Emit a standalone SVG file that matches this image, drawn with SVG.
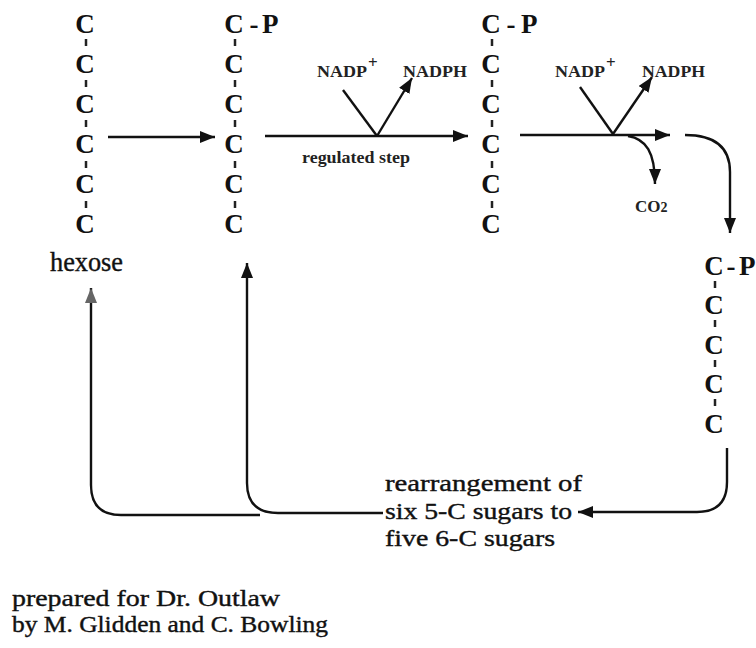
<svg xmlns="http://www.w3.org/2000/svg" width="756" height="648" viewBox="0 0 756 648">
<style>
.c{font-family:"Liberation Serif",serif;font-size:27px;font-weight:bold;fill:#111;text-anchor:middle}
.p{font-family:"Liberation Serif",serif;font-size:27px;font-weight:bold;fill:#111}
.t{font-family:"Liberation Serif",serif;font-size:27px;fill:#111;stroke:#111;stroke-width:0.4}
.m{font-size:24px}
.s{font-family:"Liberation Serif",serif;font-size:17px;font-weight:bold;fill:#222}
.tick{stroke:#222;stroke-width:2.5}
.ln{fill:none;stroke:#111;stroke-width:2.4}
</style>
<defs>
<marker id="ah" markerUnits="userSpaceOnUse" markerWidth="16" markerHeight="12" refX="15" refY="6" orient="auto"><path d="M0,0 L15,6 L0,12 z" fill="#111"/></marker>
<marker id="ahg" markerUnits="userSpaceOnUse" markerWidth="16" markerHeight="12" refX="15" refY="6" orient="auto"><path d="M0,0 L15,6 L0,12 z" fill="#666"/></marker>
</defs>
<rect width="756" height="648" fill="#fff"/>

<g id="hexose">
<text class="c" x="85" y="33">C</text><text class="c" x="85" y="73">C</text><text class="c" x="85" y="113">C</text><text class="c" x="85" y="153">C</text><text class="c" x="85" y="193">C</text><text class="c" x="85" y="233">C</text>
<line class="tick" x1="86" y1="39" x2="86" y2="46"/><line class="tick" x1="86" y1="80" x2="86" y2="87"/><line class="tick" x1="86" y1="120" x2="86" y2="127"/><line class="tick" x1="86" y1="161" x2="86" y2="168"/><line class="tick" x1="86" y1="201" x2="86" y2="208"/>
<text class="t" x="50" y="271" textLength="73" lengthAdjust="spacingAndGlyphs">hexose</text>
</g>

<g id="chain2">
<text class="c" x="234" y="33">C</text><text class="c" x="234" y="73">C</text><text class="c" x="234" y="113">C</text><text class="c" x="234" y="153">C</text><text class="c" x="234" y="193">C</text><text class="c" x="234" y="233">C</text>
<line class="tick" x1="235" y1="39" x2="235" y2="46"/><line class="tick" x1="235" y1="80" x2="235" y2="87"/><line class="tick" x1="235" y1="120" x2="235" y2="127"/><line class="tick" x1="235" y1="161" x2="235" y2="168"/><line class="tick" x1="235" y1="201" x2="235" y2="208"/>
<text class="c" x="254" y="33">-</text><text class="p" x="262" y="33">P</text>
</g>

<g id="chain3">
<text class="c" x="491" y="33">C</text><text class="c" x="491" y="73">C</text><text class="c" x="491" y="113">C</text><text class="c" x="491" y="153">C</text><text class="c" x="491" y="193">C</text><text class="c" x="491" y="233">C</text>
<line class="tick" x1="492" y1="39" x2="492" y2="46"/><line class="tick" x1="492" y1="80" x2="492" y2="87"/><line class="tick" x1="492" y1="120" x2="492" y2="127"/><line class="tick" x1="492" y1="161" x2="492" y2="168"/><line class="tick" x1="492" y1="201" x2="492" y2="208"/>
<text class="c" x="511" y="33">-</text><text class="p" x="521" y="33">P</text>
</g>

<g id="chain4">
<text class="c" x="714" y="275">C</text><text class="c" x="714" y="314">C</text><text class="c" x="714" y="354">C</text><text class="c" x="714" y="393">C</text><text class="c" x="714" y="433">C</text>
<line class="tick" x1="715" y1="281" x2="715" y2="288"/><line class="tick" x1="715" y1="320" x2="715" y2="327"/><line class="tick" x1="715" y1="360" x2="715" y2="367"/><line class="tick" x1="715" y1="399" x2="715" y2="406"/>
<text class="c" x="731" y="275">-</text><text class="p" x="739" y="275">P</text>
</g>

<g id="step1-labels">
<text class="s" x="317" y="77" textLength="50" lengthAdjust="spacingAndGlyphs">NADP</text><text class="s" x="368" y="68" font-size="11">+</text>
<text class="s" x="403" y="77" textLength="64" lengthAdjust="spacingAndGlyphs">NADPH</text>
<text class="s" x="302" y="163" font-weight="normal" textLength="108" lengthAdjust="spacingAndGlyphs">regulated step</text>
</g>

<g id="step2-labels">
<text class="s" x="555" y="77" textLength="50" lengthAdjust="spacingAndGlyphs">NADP</text><text class="s" x="606" y="68" font-size="11">+</text>
<text class="s" x="642" y="77" textLength="63" lengthAdjust="spacingAndGlyphs">NADPH</text>
<text class="s" x="635" y="212">CO<tspan font-size="14">2</tspan></text>
</g>

<g id="rearrangement">
<text class="t m" x="385" y="491" textLength="197" lengthAdjust="spacingAndGlyphs">rearrangement of</text>
<text class="t m" x="385" y="519" textLength="187" lengthAdjust="spacingAndGlyphs">six 5-C sugars to</text>
<text class="t m" x="385" y="546" textLength="170" lengthAdjust="spacingAndGlyphs">five 6-C sugars</text>
</g>

<g id="credits">
<text class="t m" x="12" y="606" textLength="268" lengthAdjust="spacingAndGlyphs">prepared for Dr. Outlaw</text>
<text class="t m" x="12" y="632" textLength="316" lengthAdjust="spacingAndGlyphs">by M. Glidden and C. Bowling</text>
</g>

<g id="connectors">
<path class="ln" d="M108,137 H215" marker-end="url(#ah)"/>
<path class="ln" d="M265,136 H468" marker-end="url(#ah)"/>
<path class="ln" d="M343,90 L377,136"/>
<path class="ln" d="M377,136 L412,78" marker-end="url(#ah)"/>
<path class="ln" d="M520,135 H670" stroke-width="3.4" stroke="#333" marker-end="url(#ah)"/>
<path class="ln" d="M580,87 L613,134"/>
<path class="ln" d="M613,134 L652,77" marker-end="url(#ah)"/>
<path class="ln" d="M628,136 C646,139 655,152 655,184" stroke-width="2" marker-end="url(#ah)"/>
<path class="ln" d="M685,135 Q730,135 730,172 V233" stroke-width="2" marker-end="url(#ah)"/>
<path class="ln" d="M727,448 V482 Q727,512 697,512 H578" stroke-width="2.2" marker-end="url(#ah)"/>
<path class="ln" d="M383,513 H278 Q247,513 247,483 V263" stroke-width="1.6" stroke="#333" marker-end="url(#ah)"/>
<path class="ln" d="M260,515 H121 Q91,515 91,485 V288" stroke-width="1.6" stroke="#999" marker-end="url(#ahg)"/>
</g>
</svg>
